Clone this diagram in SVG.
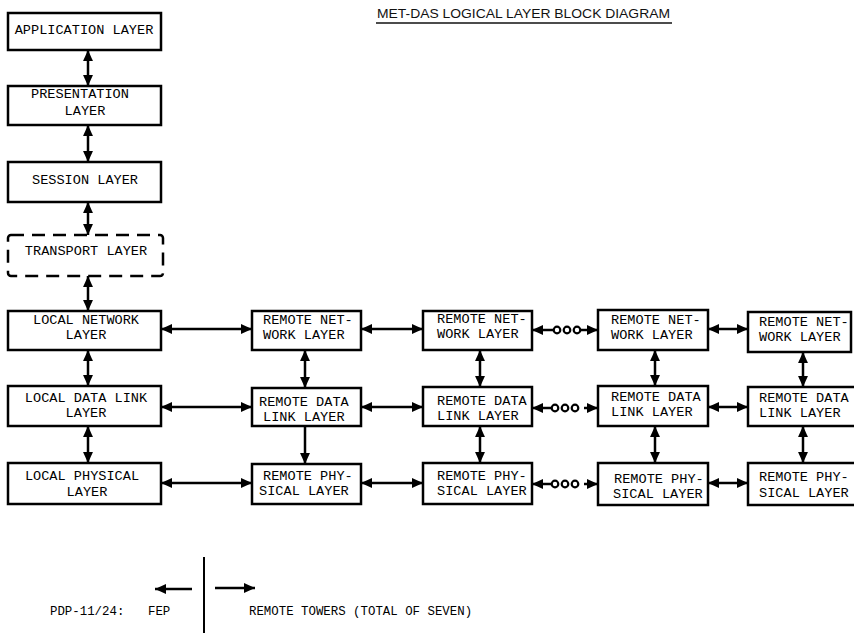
<svg xmlns="http://www.w3.org/2000/svg" width="854" height="633" viewBox="0 0 854 633">
<defs>
<style>
.box{fill:#fff;stroke:#000;stroke-width:2.5}
.dash{fill:#fff;stroke:#000;stroke-width:2.5;stroke-dasharray:13 8}
.t{font-family:"Liberation Mono","Courier New",monospace;font-size:13.6px;fill:#000}
.tm{font-family:"Liberation Mono","Courier New",monospace;font-size:13.6px;fill:#000;text-anchor:middle}
.s{font-family:"Liberation Mono","Courier New",monospace;font-size:12.4px;fill:#000}
.c{fill:none;stroke:#000;stroke-width:2.5}
.dot{fill:#fff;stroke:#000;stroke-width:2.2}
</style>
<marker id="ah" viewBox="0 0 10 10" refX="10" refY="5" markerWidth="11" markerHeight="11" markerUnits="userSpaceOnUse" orient="auto-start-reverse">
<path d="M0,0.5 L10,5 L0,9.5 Z" fill="#000"/>
</marker>
</defs>
<rect width="854" height="633" fill="#fff"/>

<g id="title">
<text x="377" y="18" font-family="'Liberation Sans',Arial,sans-serif" font-size="13" fill="#111" textLength="293" lengthAdjust="spacingAndGlyphs">MET-DAS LOGICAL LAYER BLOCK DIAGRAM</text>
<line x1="376" y1="23" x2="672" y2="23" stroke="#111" stroke-width="1.5"/>
</g>

<g id="application">
<rect class="box" x="8" y="13" width="153" height="37"/>
<text class="tm" x="84" y="34">APPLICATION LAYER</text>
</g>
<g id="presentation">
<rect class="box" x="8" y="86" width="153" height="39"/>
<text class="tm" x="80" y="98">PRESENTATION</text>
<text class="tm" x="85" y="115">LAYER</text>
</g>
<g id="session">
<rect class="box" x="8" y="162" width="153" height="40"/>
<text class="tm" x="85" y="184">SESSION LAYER</text>
</g>
<g id="transport">
<rect class="dash" x="8" y="235" width="155" height="41" rx="3"/>
<text class="tm" x="86" y="255">TRANSPORT LAYER</text>
</g>
<g id="local-network">
<rect class="box" x="8" y="311" width="153" height="39"/>
<text class="tm" x="86" y="324">LOCAL NETWORK</text>
<text class="tm" x="86" y="339">LAYER</text>
</g>
<g id="local-datalink">
<rect class="box" x="8" y="386" width="153" height="40"/>
<text class="tm" x="86" y="402">LOCAL DATA LINK</text>
<text class="tm" x="86" y="417">LAYER</text>
</g>
<g id="local-physical">
<rect class="box" x="8" y="463" width="153" height="41"/>
<text class="tm" x="82" y="480">LOCAL PHYSICAL</text>
<text class="tm" x="87" y="496">LAYER</text>
</g>

<g id="r1-network">
<rect class="box" x="252" y="311" width="109" height="39"/>
<text class="t" x="263" y="324">REMOTE NET-</text>
<text class="t" x="263" y="339">WORK LAYER</text>
</g>
<g id="r1-datalink">
<rect class="box" x="252" y="388" width="109" height="38"/>
<text class="t" x="259" y="406">REMOTE DATA</text>
<text class="t" x="263" y="421">LINK LAYER</text>
</g>
<g id="r1-physical">
<rect class="box" x="252" y="464" width="109" height="40"/>
<text class="t" x="263" y="480">REMOTE PHY-</text>
<text class="t" x="259" y="495">SICAL LAYER</text>
</g>

<g id="r2-network">
<rect class="box" x="423" y="311" width="109" height="39"/>
<text class="t" x="437" y="323">REMOTE NET-</text>
<text class="t" x="437" y="338">WORK LAYER</text>
</g>
<g id="r2-datalink">
<rect class="box" x="423" y="387" width="109" height="39"/>
<text class="t" x="437" y="405">REMOTE DATA</text>
<text class="t" x="437" y="420">LINK LAYER</text>
</g>
<g id="r2-physical">
<rect class="box" x="423" y="463" width="109" height="41"/>
<text class="t" x="437" y="480">REMOTE PHY-</text>
<text class="t" x="437" y="495">SICAL LAYER</text>
</g>

<g id="r3-network">
<rect class="box" x="598" y="310" width="110" height="40"/>
<text class="t" x="611" y="324">REMOTE NET-</text>
<text class="t" x="611" y="339">WORK LAYER</text>
</g>
<g id="r3-datalink">
<rect class="box" x="598" y="386" width="110" height="40"/>
<text class="t" x="611" y="401">REMOTE DATA</text>
<text class="t" x="611" y="416">LINK LAYER</text>
</g>
<g id="r3-physical">
<rect class="box" x="598" y="463" width="110" height="42"/>
<text class="t" x="614" y="483">REMOTE PHY-</text>
<text class="t" x="613" y="498">SICAL LAYER</text>
</g>

<g id="r4-network">
<rect class="box" x="748" y="312" width="103" height="40"/>
<text class="t" x="759" y="326">REMOTE NET-</text>
<text class="t" x="759" y="341">WORK LAYER</text>
</g>
<g id="r4-datalink">
<rect class="box" x="748" y="387" width="120" height="39"/>
<text class="t" x="759" y="402">REMOTE DATA</text>
<text class="t" x="759" y="417">LINK LAYER</text>
</g>
<g id="r4-physical">
<rect class="box" x="748" y="463" width="120" height="42"/>
<text class="t" x="759" y="481">REMOTE PHY-</text>
<text class="t" x="759" y="497">SICAL LAYER</text>
</g>

<g id="connectors">
<line class="c" x1="88" y1="50" x2="88" y2="86" marker-start="url(#ah)" marker-end="url(#ah)"/>
<line class="c" x1="88" y1="125" x2="88" y2="162" marker-start="url(#ah)" marker-end="url(#ah)"/>
<line class="c" x1="88" y1="202" x2="88" y2="235" marker-start="url(#ah)" marker-end="url(#ah)"/>
<line class="c" x1="88" y1="276" x2="88" y2="311" marker-start="url(#ah)" marker-end="url(#ah)"/>
<line class="c" x1="88" y1="350" x2="88" y2="386" marker-start="url(#ah)" marker-end="url(#ah)"/>
<line class="c" x1="88" y1="426" x2="88" y2="463" marker-start="url(#ah)" marker-end="url(#ah)"/>
<line class="c" x1="305" y1="350" x2="305" y2="388" marker-start="url(#ah)" marker-end="url(#ah)"/>
<line class="c" x1="305" y1="426" x2="305" y2="464" marker-end="url(#ah)"/>
<line class="c" x1="480" y1="350" x2="480" y2="387" marker-start="url(#ah)" marker-end="url(#ah)"/>
<line class="c" x1="480" y1="426" x2="480" y2="463" marker-start="url(#ah)" marker-end="url(#ah)"/>
<line class="c" x1="655" y1="350" x2="655" y2="386" marker-start="url(#ah)" marker-end="url(#ah)"/>
<line class="c" x1="655" y1="426" x2="655" y2="463" marker-start="url(#ah)" marker-end="url(#ah)"/>
<line class="c" x1="803" y1="352" x2="803" y2="387" marker-start="url(#ah)" marker-end="url(#ah)"/>
<line class="c" x1="803" y1="426" x2="803" y2="463" marker-start="url(#ah)" marker-end="url(#ah)"/>
<line class="c" x1="161" y1="329" x2="252" y2="329" marker-start="url(#ah)" marker-end="url(#ah)"/>
<line class="c" x1="161" y1="407" x2="252" y2="407" marker-start="url(#ah)" marker-end="url(#ah)"/>
<line class="c" x1="161" y1="483" x2="252" y2="483" marker-start="url(#ah)" marker-end="url(#ah)"/>
<line class="c" x1="361" y1="329" x2="423" y2="329" marker-start="url(#ah)" marker-end="url(#ah)"/>
<line class="c" x1="361" y1="407" x2="423" y2="407" marker-start="url(#ah)" marker-end="url(#ah)"/>
<line class="c" x1="361" y1="483" x2="423" y2="483" marker-start="url(#ah)" marker-end="url(#ah)"/>
<line class="c" x1="553" y1="330" x2="532" y2="330" marker-end="url(#ah)"/>
<circle class="dot" cx="557" cy="330" r="3.3"/>
<circle class="dot" cx="567" cy="330" r="3.3"/>
<circle class="dot" cx="577" cy="330" r="3.3"/>
<line class="c" x1="581" y1="330" x2="598" y2="330" marker-end="url(#ah)"/>
<line class="c" x1="551" y1="408" x2="532" y2="408" marker-end="url(#ah)"/>
<circle class="dot" cx="555" cy="408" r="3.3"/>
<circle class="dot" cx="565" cy="408" r="3.3"/>
<circle class="dot" cx="575" cy="408" r="3.3"/>
<line class="c" x1="584" y1="408" x2="598" y2="408" marker-end="url(#ah)"/>
<line class="c" x1="551" y1="484" x2="532" y2="484" marker-end="url(#ah)"/>
<circle class="dot" cx="555" cy="484" r="3.3"/>
<circle class="dot" cx="565" cy="484" r="3.3"/>
<circle class="dot" cx="575" cy="484" r="3.3"/>
<line class="c" x1="584" y1="484" x2="598" y2="484" marker-end="url(#ah)"/>
<line class="c" x1="708" y1="329" x2="748" y2="329" marker-start="url(#ah)" marker-end="url(#ah)"/>
<line class="c" x1="708" y1="407" x2="748" y2="407" marker-start="url(#ah)" marker-end="url(#ah)"/>
<line class="c" x1="708" y1="483" x2="748" y2="483" marker-start="url(#ah)" marker-end="url(#ah)"/>
</g>

<g id="legend">
<line x1="204" y1="557" x2="204" y2="633" stroke="#000" stroke-width="2"/>
<line class="c" x1="192" y1="589" x2="155" y2="589" marker-end="url(#ah)"/>
<line class="c" x1="215" y1="588" x2="255" y2="588" marker-end="url(#ah)"/>
<text class="s" x="50" y="615">PDP-11/24:</text>
<text class="s" x="148" y="615">FEP</text>
<text class="s" x="249" y="615">REMOTE TOWERS (TOTAL OF SEVEN)</text>
</g>
</svg>
